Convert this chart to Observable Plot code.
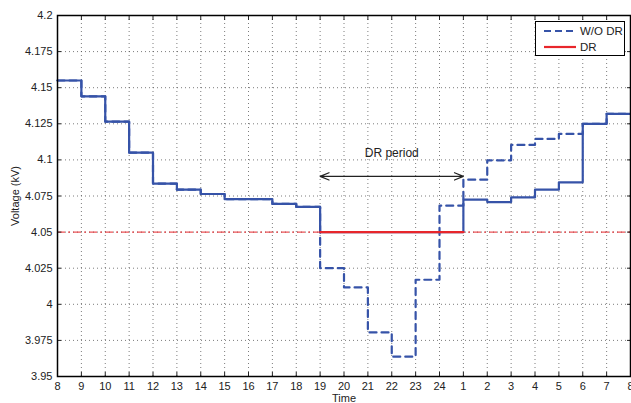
<!DOCTYPE html>
<html>
<head>
<meta charset="utf-8">
<script src="https://cdn.jsdelivr.net/npm/d3@7"></script>
<script src="https://cdn.jsdelivr.net/npm/@observablehq/plot@0.6"></script>
<style>
  html, body { margin: 0; padding: 0; background: #fff; }
  #wrap { position: relative; width: 631px; height: 403px; font-family: "Liberation Sans", Arial, sans-serif; }
  #legend { position: absolute; left: 535px; top: 21px; width: 90px; height: 35px; border: 1px solid #000; background: #fff; box-sizing: border-box; }
</style>
</head>
<body>
<div id="wrap"></div>
<script>
// Hour labels along the time axis (index 0..24)
const hourLabels = [8,9,10,11,12,13,14,15,16,17,18,19,20,21,22,23,24,1,2,3,4,5,6,7,8];
// Voltage per hourly interval (24 intervals), DR case
const drVoltage = [4.155, 4.144, 4.1265, 4.105, 4.0836, 4.0794, 4.0764, 4.0728, 4.0728, 4.0695, 4.0674,
                   4.05, 4.05, 4.05, 4.05, 4.05, 4.05,
                   4.0725, 4.0708, 4.074, 4.0794, 4.0845, 4.125, 4.1319];
// Voltage per hourly interval, without DR
const woDrVoltage = [4.155, 4.144, 4.1265, 4.105, 4.0836, 4.0794, 4.0764, 4.0728, 4.0728, 4.0695, 4.0674,
                     4.025, 4.0117, 3.9805, 3.9637, 4.017, 4.0683,
                     4.0863, 4.0997, 4.1104, 4.1145, 4.118, 4.125, 4.1319];
const voltageLimit = 4.05;
const drStart = 11, drEnd = 17;     // hour 19 to hour 1
const arrowVoltage = 4.0886;
const labelVoltage = 4.105;
const yTicks = [3.95, 3.975, 4, 4.025, 4.05, 4.075, 4.1, 4.125, 4.15, 4.175, 4.2];
const xTicks = d3.range(0, 25);

const stepData = v => v.map((y, i) => ({x: i, y})).concat([{x: v.length, y: v[v.length - 1]}]);
const drData = stepData(drVoltage);
const woDrData = stepData(woDrVoltage);
const drPeriod = drData.filter(d => d.x >= drStart && d.x < drEnd).concat([{x: drEnd, y: drVoltage[drEnd - 1]}]);
const mid = (drStart + drEnd) / 2;
const arrows = [{x1: mid, x2: drStart, y: arrowVoltage}, {x1: mid, x2: drEnd, y: arrowVoltage}];

const blue = "#3653a8";
const red = "#e8262b";
const fmtY = d => d3.format("")(+d.toFixed(3));

const chart = Plot.plot({
  width: 631,
  height: 403,
  marginLeft: 57,
  marginTop: 15,
  marginRight: 1,
  marginBottom: 27,
  style: {fontFamily: "Liberation Sans, Arial, sans-serif", fontSize: "11px", color: "#222"},
  x: {domain: [0, 24], ticks: xTicks, label: null},
  y: {domain: [3.95, 4.2], ticks: yTicks, label: null},
  marks: [
    Plot.gridX(xTicks, {stroke: "#444", strokeOpacity: 0.7, strokeDasharray: "1,3"}),
    Plot.gridY(yTicks, {stroke: "#444", strokeOpacity: 0.7, strokeDasharray: "1,3"}),
    Plot.ruleY([voltageLimit], {stroke: red, strokeWidth: 1, strokeDasharray: "8,3,2,3"}),
    Plot.line(woDrData, {x: "x", y: "y", curve: "step-after", stroke: blue, strokeWidth: 2.2, strokeDasharray: "7,5"}),
    Plot.line(drData, {x: "x", y: "y", curve: "step-after", stroke: blue, strokeWidth: 2.2}),
    Plot.line(drPeriod, {x: "x", y: "y", curve: "step-after", stroke: red, strokeWidth: 2.2}),
    Plot.arrow(arrows, {x1: "x1", x2: "x2", y1: "y", y2: "y", stroke: "#222", strokeWidth: 1.2, headLength: 12, headAngle: 45}),
    Plot.text([{x: mid, y: labelVoltage, t: "DR period"}], {x: "x", y: "y", text: "t", fontSize: 12, fill: "#222"}),
    Plot.axisX(xTicks, {anchor: "bottom", tickSize: -4, tickPadding: 10, tickFormat: i => hourLabels[i], label: "Time", labelAnchor: "center", labelArrow: "none", labelOffset: 25}),
    Plot.axisX(xTicks, {anchor: "top", tickSize: -4, tickFormat: () => "", label: null}),
    Plot.axisY(yTicks, {anchor: "left", tickSize: -4, tickPadding: 9, tickFormat: fmtY, label: "Voltage (kV)", labelAnchor: "center", labelArrow: "none", labelOffset: 46}),
    Plot.axisY(yTicks, {anchor: "right", tickSize: -4, tickFormat: () => "", label: null}),
    Plot.frame({stroke: "#000", strokeWidth: 1.5})
  ]
});

const wrap = document.getElementById("wrap");
wrap.appendChild(chart);

const legend = document.createElement("div");
legend.id = "legend";
const legendItems = [{name: "W/O DR", color: blue, dash: "7,4"}, {name: "DR", color: red, dash: null}];
legend.innerHTML = `<svg width="88" height="33" style="display:block">${legendItems.map((d, i) => `
  <line x1="8" x2="40" y1="${9 + i * 16}" y2="${9 + i * 16}" stroke="${d.color}" stroke-width="2.2" ${d.dash ? `stroke-dasharray="${d.dash}"` : ""}/>
  <text x="44" y="${13 + i * 16}" font-size="11.5" fill="#222" font-family="Liberation Sans, Arial, sans-serif">${d.name}</text>`).join("")}
</svg>`;
wrap.appendChild(legend);
</script>
</body>
</html>
